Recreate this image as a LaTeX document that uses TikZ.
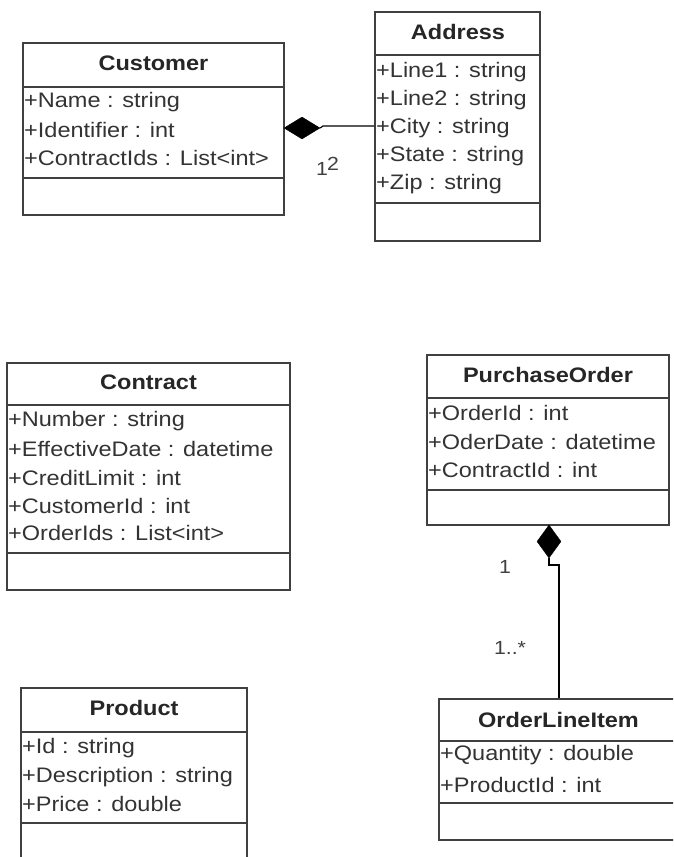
\documentclass[tikz,border=0pt]{standalone}
\usepackage{fontspec}
\setmainfont{Liberation Sans}[FakeStretch=1.12]
\usetikzlibrary{shapes.geometric}
\begin{document}
\begin{tikzpicture}[x=1pt,y=-1pt,
  box/.style={draw=black!75, line width=1.4pt, inner sep=0pt, rectangle},
  sep/.style={draw=black!75, line width=1.4pt},
  attr/.style={anchor=west, inner sep=0pt, text=black!80, font=\fontsize{21}{25}\selectfont},
  ttl/.style={inner sep=0pt, text=black!85, font=\fontsize{21}{25}\selectfont\bfseries},
  comp/.style={diamond, fill=black, draw=black, inner sep=0pt, line width=0.4pt},
  conn/.style={draw=black, line width=1.2pt},
  mult/.style={inner sep=0pt, text=black!75, font=\fontsize{19}{22}\selectfont}]
\useasboundingbox (0,0) rectangle (673,857);
\fill[white] (0,0) rectangle (673,857);
\clip (0,0) rectangle (673,857);

% Customer
\node[box, minimum width=261pt, minimum height=172pt] (cust) at (153.5,129) {};
\draw[sep] (cust.west |- 0,87) -- (cust.east |- 0,87);
\draw[sep] (cust.west |- 0,178) -- (cust.east |- 0,178);
\node[ttl] (custT) at (153.5,63) {Customer};
\node[attr] (custA1) at (24,102) {+Name : string};
\node[attr] (custA2) at (24,130) {+Identifier : int};
\node[attr] (custA3) at (24,158) {+ContractIds : List<int>};

% Address
\node[box, minimum width=165pt, minimum height=229pt] (addr) at (457.5,126.5) {};
\draw[sep] (addr.west |- 0,55) -- (addr.east |- 0,55);
\draw[sep] (addr.west |- 0,203) -- (addr.east |- 0,203);
\node[ttl] (addrT) at (458,32) {Address};
\node[attr] (addrA1) at (376,72) {+Line1 : string};
\node[attr] (addrA2) at (376,100) {+Line2 : string};
\node[attr] (addrA3) at (376,128) {+City : string};
\node[attr] (addrA4) at (376,156) {+State : string};
\node[attr] (addrA5) at (376,184) {+Zip : string};

% Customer - Address composition
\node[comp, minimum width=36pt, minimum height=22pt] (d1) at (302,128) {};
\coordinate (k1) at (323,126);
\draw[conn] (d1.east) -- (k1) -- (addr.west |- k1);
\node[mult] (m1a) at (322,169) {1};
\node[mult] (m1b) at (333,164) {2};

% Contract
\node[box, minimum width=283pt, minimum height=227pt] (contr) at (148.5,476.5) {};
\draw[sep] (contr.west |- 0,405) -- (contr.east |- 0,405);
\draw[sep] (contr.west |- 0,553) -- (contr.east |- 0,553);
\node[ttl] (contrT) at (148.5,382) {Contract};
\node[attr] (contrA1) at (8,421) {+Number : string};
\node[attr] (contrA2) at (8,449) {+EffectiveDate : datetime};
\node[attr] (contrA3) at (8,478) {+CreditLimit : int};
\node[attr] (contrA4) at (8,506) {+CustomerId : int};
\node[attr] (contrA5) at (8,533) {+OrderIds : List<int>};

% PurchaseOrder
\node[box, minimum width=242pt, minimum height=170pt] (po) at (548,440) {};
\draw[sep] (po.west |- 0,398) -- (po.east |- 0,398);
\draw[sep] (po.west |- 0,490) -- (po.east |- 0,490);
\node[ttl] (poT) at (548,375) {PurchaseOrder};
\node[attr] (poA1) at (428,413) {+OrderId : int};
\node[attr] (poA2) at (428,442) {+OderDate : datetime};
\node[attr] (poA3) at (428,470) {+ContractId : int};

% Product
\node[box, minimum width=226pt, minimum height=200pt] (prod) at (134,788) {};
\draw[sep] (prod.west |- 0,732) -- (prod.east |- 0,732);
\draw[sep] (prod.west |- 0,823) -- (prod.east |- 0,823);
\node[ttl] (prodT) at (134,708) {Product};
\node[attr] (prodA1) at (22,748) {+Id : string};
\node[attr] (prodA2) at (22,777) {+Description : string};
\node[attr] (prodA3) at (22,804) {+Price : double};

% OrderLineItem
\node[box, minimum width=239pt, minimum height=141pt] (oli) at (558.5,769.5) {};
\draw[sep] (oli.west |- 0,741) -- (oli.east |- 0,741);
\draw[sep] (oli.west |- 0,803) -- (oli.east |- 0,803);
\node[ttl] (oliT) at (558.5,720) {OrderLineItem};
\node[attr] (oliA1) at (440,755) {+Quantity : double};
\node[attr] (oliA2) at (440,785) {+ProductId : int};

% PurchaseOrder - OrderLineItem composition
\node[comp, minimum width=24pt, minimum height=33pt] (d2) at (549,541.5) {};
\coordinate (k2) at (549,565);
\coordinate (k3) at (559,565);
\draw[conn] (d2.south) -- (k2) -- (k3) -- (k3 |- oli.north);
\node[mult] (m2a) at (505,567) {1};
\node[mult] (m2b) at (510,648) {1..*};
\end{tikzpicture}
\end{document}
